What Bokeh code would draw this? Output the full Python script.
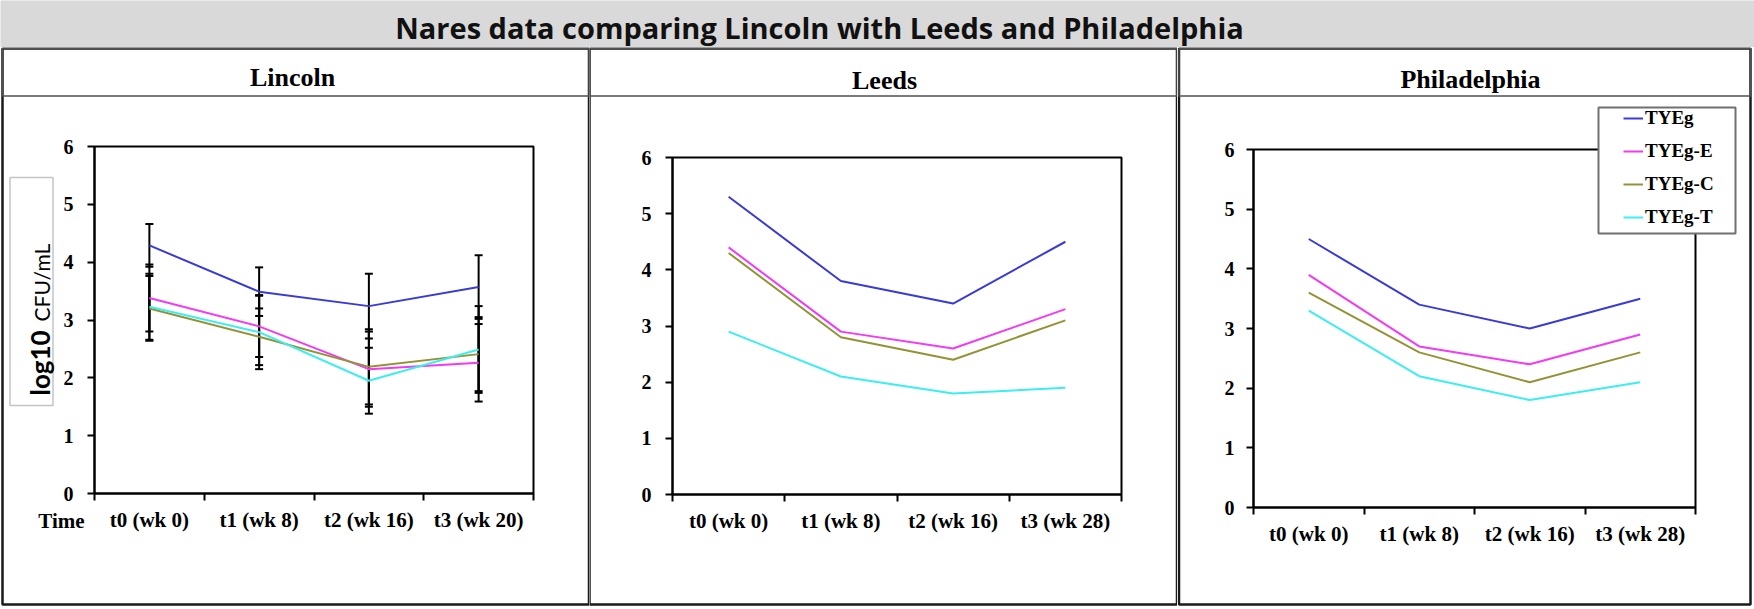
from math import pi
from bokeh.plotting import figure
from bokeh.models import (Range1d, FixedTicker, Label, BoxAnnotation, Whisker, TeeHead,
                          ColumnDataSource, Legend, LegendItem, LinearAxis)
from bokeh.layouts import column, row
from bokeh.embed import file_html
from bokeh.resources import INLINE

# ---------------- data ----------------
main_title = "Nares data comparing Lincoln with Leeds and Philadelphia"
series_names = ["TYEg", "TYEg-E", "TYEg-C", "TYEg-T"]
series_colors = ["#3A3AD6", "#F23AF2", "#939336", "#3CEEEE"]

lincoln_labels = ["t0 (wk 0)", "t1 (wk 8)", "t2 (wk 16)", "t3 (wk 20)"]
leeds_labels = ["t0 (wk 0)", "t1 (wk 8)", "t2 (wk 16)", "t3 (wk 28)"]
phil_labels = ["t0 (wk 0)", "t1 (wk 8)", "t2 (wk 16)", "t3 (wk 28)"]
y_ticks = [0, 1, 2, 3, 4, 5, 6]

lincoln_tyeg = [4.29, 3.49, 3.24, 3.57]
lincoln_tyeg_e = [3.38, 2.89, 2.15, 2.26]
lincoln_tyeg_c = [3.20, 2.71, 2.19, 2.41]
lincoln_tyeg_t = [3.23, 2.79, 1.95, 2.49]

lincoln_err_tyeg = [0.37, 0.42, 0.56, 0.55]
lincoln_err_tyeg_e = [0.58, 0.53, 0.65, 0.67]
lincoln_err_tyeg_c = [0.56, 0.49, 0.65, 0.64]
lincoln_err_tyeg_t = [0.57, 0.64, 0.57, 0.75]

leeds_tyeg = [5.3, 3.8, 3.4, 4.5]
leeds_tyeg_e = [4.4, 2.9, 2.6, 3.3]
leeds_tyeg_c = [4.3, 2.8, 2.4, 3.1]
leeds_tyeg_t = [2.9, 2.1, 1.8, 1.9]

phil_tyeg = [4.5, 3.4, 3.0, 3.5]
phil_tyeg_e = [3.9, 2.7, 2.4, 2.9]
phil_tyeg_c = [3.6, 2.6, 2.1, 2.6]
phil_tyeg_t = [3.3, 2.2, 1.8, 2.1]

SERIF = "Liberation Serif"
H = 562          # panel height (below the 47 px title bar)
Y_MAX = 6


def canvas_box(l, r, t, b, **kw):
    return BoxAnnotation(left=l, right=r, top=t, bottom=b,
                         left_units="canvas", right_units="canvas",
                         top_units="canvas", bottom_units="canvas",
                         line_alpha=1, **kw)


def make_panel(name, labels, values, errors, width, plot_box, title_xy, y_standoff,
               border_lr):
    n = len(labels)
    nx = 2 * n
    pl, pt_, pw, ph = plot_box            # plot area inside the panel canvas (px)
    ux = pw / nx
    uy = ph / Y_MAX
    xr = Range1d(-pl / ux, nx + (width - pl - pw) / ux)
    yr = Range1d(-(H - pt_ - ph) / uy, Y_MAX + pt_ / uy)

    p = figure(width=width, height=H, toolbar_location=None, output_backend="svg",
               x_range=xr, y_range=yr, x_axis_type=None, y_axis_type=None,
               min_border=0, title=None)
    p.xgrid.visible = False
    p.ygrid.visible = False
    p.outline_line_color = None
    p.background_fill_color = "white"
    p.border_fill_color = "white"

    xs = [2 * i + 1 for i in range(n)]

    xa = LinearAxis(fixed_location=0, bounds=(0, nx))
    xa.ticker = FixedTicker(ticks=xs, minor_ticks=[2 * i for i in range(n + 1)])
    xa.major_label_overrides = {x: lab for x, lab in zip(xs, labels)}
    xa.major_tick_out = 0
    xa.major_tick_in = 0
    xa.minor_tick_out = 7
    xa.minor_tick_in = 0
    xa.minor_tick_line_width = 2
    xa.minor_tick_line_color = "black"
    xa.axis_line_width = 2
    xa.axis_line_color = "black"
    xa.major_label_text_font = SERIF
    xa.major_label_text_font_style = "bold"
    xa.major_label_text_font_size = "21px"
    xa.major_label_text_color = "black"
    xa.major_label_standoff = 7
    p.add_layout(xa, "below")

    ya = LinearAxis(fixed_location=0, bounds=(0, Y_MAX))
    ya.ticker = FixedTicker(ticks=y_ticks, minor_ticks=[])
    ya.major_tick_out = 7
    ya.major_tick_in = 0
    ya.major_tick_line_width = 2
    ya.major_tick_line_color = "black"
    ya.minor_tick_out = 0
    ya.minor_tick_in = 0
    ya.axis_line_width = 2
    ya.axis_line_color = "black"
    ya.major_label_text_font = SERIF
    ya.major_label_text_font_style = "bold"
    ya.major_label_text_font_size = "20px"
    ya.major_label_text_color = "black"
    ya.major_label_standoff = y_standoff
    p.add_layout(ya, "left")

    # plot-area frame (top and right lines)
    p.add_layout(BoxAnnotation(left=0, right=nx, bottom=0, top=Y_MAX, fill_alpha=0,
                               line_color="black", line_alpha=1, line_width=2))

    renderers = []
    for col, vals in zip(series_colors, values):
        renderers.append(p.line(xs, vals, line_color=col, line_width=2))

    if errors is not None:
        for vals, errs in zip(values, errors):
            src = ColumnDataSource(dict(base=xs,
                                        upper=[v + e for v, e in zip(vals, errs)],
                                        lower=[v - e for v, e in zip(vals, errs)]))
            p.add_layout(Whisker(base="base", upper="upper", lower="lower", source=src,
                                 dimension="height", line_color="black", line_width=2,
                                 upper_head=TeeHead(size=8, line_color="black", line_width=2),
                                 lower_head=TeeHead(size=8, line_color="black", line_width=2)))

    # panel border and title strip
    bl, br = border_lr
    p.add_layout(canvas_box(bl, br, 1, 557, fill_alpha=0, line_color="#1a1a1a",
                            line_width=2.5))
    p.add_layout(canvas_box(bl, br, 1, 48.5, fill_alpha=0, line_color="#505050",
                            line_width=1.5))
    p.add_layout(Label(x=title_xy[0], y=title_xy[1], x_units="canvas", y_units="canvas",
                       text=name, text_font=SERIF, text_font_style="bold",
                       text_font_size="26px", text_align="center",
                       text_baseline="middle", text_color="black"))
    return p, renderers


p1, _ = make_panel("Lincoln", lincoln_labels,
                   [lincoln_tyeg, lincoln_tyeg_e, lincoln_tyeg_c, lincoln_tyeg_t],
                   [lincoln_err_tyeg, lincoln_err_tyeg_e, lincoln_err_tyeg_c, lincoln_err_tyeg_t],
                   589, (94, 99, 439, 347), (292, 30), 14, (2, 588.5))
# y axis title box and texts for Lincoln
p1.add_layout(canvas_box(9.5, 52.5, 130, 358, fill_color="white", fill_alpha=1,
                         line_color="#C4C4C4", line_width=1.5))
p1.add_layout(Label(x=39, y=348, x_units="canvas", y_units="canvas", text="log10",
                    angle=pi / 2, text_font="Lato", text_font_style="bold",
                    text_font_size="26px", text_align="left", text_baseline="alphabetic",
                    text_color="black"))
p1.add_layout(Label(x=41, y=274, x_units="canvas", y_units="canvas", text="CFU/mL",
                    angle=pi / 2, text_font="Lato", text_font_style="normal",
                    text_font_size="21px", text_align="left", text_baseline="alphabetic",
                    text_color="black"))
p1.add_layout(Label(x=61, y=473, x_units="canvas", y_units="canvas", text="Time",
                    text_font=SERIF, text_font_style="bold", text_font_size="21px",
                    text_align="center", text_baseline="middle", text_color="black"))

p2, _ = make_panel("Leeds", leeds_labels,
                   [leeds_tyeg, leeds_tyeg_e, leeds_tyeg_c, leeds_tyeg_t], None,
                   588, (83, 110, 449, 337), (295, 33), 14, (0, 587.5))
p3, rs3 = make_panel("Philadelphia", phil_labels,
                     [phil_tyeg, phil_tyeg_e, phil_tyeg_c, phil_tyeg_t], None,
                     577, (76, 102, 442, 358), (293, 32), 12, (1.5, 573))

# legend of the Philadelphia panel
p3.add_layout(canvas_box(421, 558, 60, 186, fill_color="white", fill_alpha=1,
                         line_color="#707070", line_width=2))
leg = Legend(items=[LegendItem(label=s, renderers=[r]) for s, r in zip(series_names, rs3)],
             location=(446, 381), padding=0, margin=0,
             border_line_alpha=0, background_fill_alpha=0,
             glyph_width=20, glyph_height=20, label_height=20,
             label_standoff=2, spacing=11,
             label_text_font=SERIF, label_text_font_style="bold",
             label_text_font_size="19px", label_text_color="black")
p3.add_layout(leg, "center")

# title bar
pt = figure(width=1754, height=47, toolbar_location=None, output_backend="svg",
            x_range=Range1d(0, 1), y_range=Range1d(0, 1), x_axis_type=None,
            y_axis_type=None, min_border=0, title=None)
pt.xgrid.visible = False
pt.ygrid.visible = False
pt.outline_line_color = None
pt.background_fill_color = "#D9D9D9"
pt.border_fill_color = "#D9D9D9"
pt.add_layout(Label(x=819, y=27, x_units="canvas", y_units="canvas", text=main_title,
                    text_font="Open Sans", text_font_style="bold", text_font_size="29px",
                    text_align="center", text_baseline="middle", text_color="#111111"))

layout = column(pt, row(p1, p2, p3, spacing=0), spacing=0)
open("out.html", "w").write(file_html(layout, INLINE))
